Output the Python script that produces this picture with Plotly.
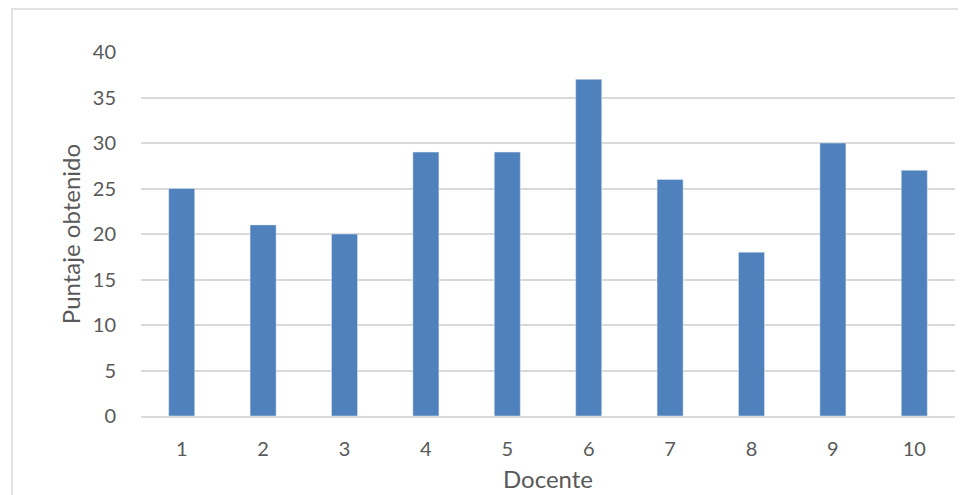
import plotly.graph_objects as go

categories = ["1", "2", "3", "4", "5", "6", "7", "8", "9", "10"]
values = [25, 21, 20, 29, 29, 37, 26, 18, 30, 27]
y_ticks = [0, 5, 10, 15, 20, 25, 30, 35, 40]

# page body has an 8px margin; compensate so the plot lands where the reference has it
OFF = 8
W, H = 966, 495
L, R, T, B = 141 - OFF, 19, 52 - OFF, 495 - (416 - OFF)
pw, ph = W - L - R, H - T - B

def px(x):
    return (x - OFF - L) / pw

def py(y):
    return (H - B - (y - OFF)) / ph

fig = go.Figure(go.Bar(x=categories, y=values, marker_color="#4F81BD", width=0.32))

FAM = "Lato, Open Sans, sans-serif"
tick_font = dict(family=FAM, size=20, color="#595959")
title_font = dict(family=FAM, size=24, color="#595959")
fig.update_layout(
    width=W, height=H,
    margin=dict(l=L, r=R, t=T, b=B),
    plot_bgcolor="white", paper_bgcolor="white",
    font=tick_font, showlegend=False,
    xaxis=dict(type="category", showgrid=False, showline=True, linecolor="#d9d9d9", linewidth=1.5,
               ticks="", tickfont=tick_font, ticklabelstandoff=14,
               title=dict(text="Docente", font=title_font, standoff=12)),
    yaxis=dict(range=[0, 40], tickvals=y_ticks, showgrid=True, gridcolor="#d9d9d9", gridwidth=1.5,
               zeroline=False, showline=False, ticks="", tickfont=tick_font, ticklabelstandoff=24,
               title=dict(text="Puntaje obtenido", font=title_font, standoff=5)),
    shapes=[dict(type="rect", xref="paper", yref="paper", x0=px(12), x1=px(1000), y0=py(520), y1=py(9),
                 line=dict(color="#d9d9d9", width=1.5), layer="below")],
)

fig.write_html("out.html")
